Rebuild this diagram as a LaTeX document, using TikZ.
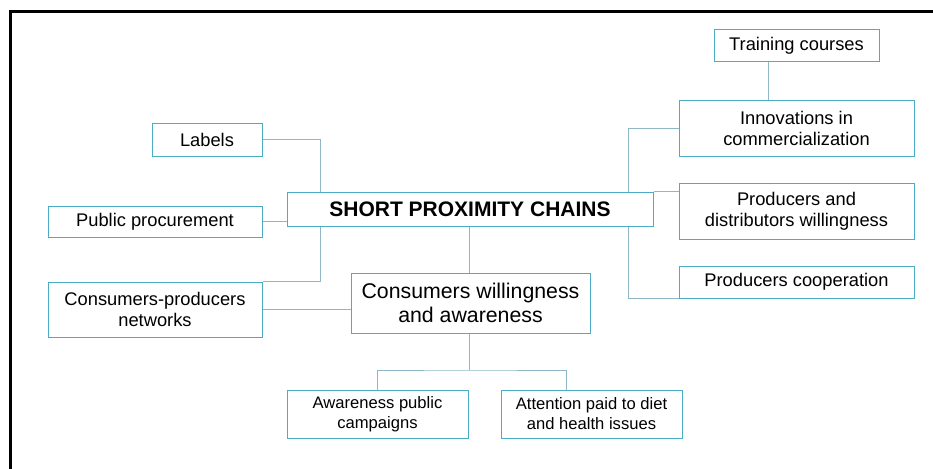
\documentclass[tikz,border=0pt]{standalone}
\usepackage{fontspec}
\setmainfont{Liberation Sans}
\definecolor{boxc}{HTML}{4BACC6}
\definecolor{linec}{HTML}{8FB8C6}
\begin{document}
\begin{tikzpicture}[x=1pt,y=-1pt,
  bx/.style={draw=boxc,line width=1pt,inner sep=0pt,align=center,font=\fontsize{18.3}{20.7}\selectfont},
  ln/.style={draw=linec,line width=1pt}]
\useasboundingbox (0,0) rectangle (933,468);
\fill[white] (0,0) rectangle (933,468);
\draw[line width=3pt] (10.5,475) -- (10.5,11.5) -- (940,11.5);
% boxes
\node[bx,minimum width=110pt,minimum height=33pt] (lab) at (207,139.5) {Labels};
\node[bx,minimum width=214pt,minimum height=31pt] (pp) at (155,221.5) {Public procurement};
\node[bx,minimum width=214pt,minimum height=55pt] (cpn) at (155,309.5) {Consumers-producers\\networks};
\node[bx,minimum width=366pt,minimum height=34pt,font=\bfseries\fontsize{21}{23}\selectfont] (spc) at (470,209) {SHORT PROXIMITY CHAINS};
\node[bx,minimum width=239pt,minimum height=60pt,font=\fontsize{21.3}{24}\selectfont] (cw) at (470.5,303) {Consumers willingness\\and awareness};
\node[bx,minimum width=181pt,minimum height=48pt,font=\fontsize{16.6}{20}\selectfont] (apc) at (377.5,414) {Awareness public\\campaigns};
\node[bx,minimum width=181pt,minimum height=48pt,font=\fontsize{16.6}{20}\selectfont] (att) at (591.5,414) {Attention paid to diet\\and health issues};
\node[bx,minimum width=165pt,minimum height=32pt] (tc) at (796.5,46) {Training courses};
\node[bx,minimum width=235pt,minimum height=55pt] (inn) at (796.5,128.5) {Innovations in\\commercialization};
\node[bx,minimum width=235pt,minimum height=56pt] (pdw) at (796.5,211) {Producers and\\distributors willingness};
\node[bx,minimum width=235pt,minimum height=32pt] (pco) at (796.5,282) {Producers cooperation};
% connectors
\coordinate (jl) at (320,0);
\coordinate (jr) at (628,0);
\draw[ln] (lab.east) -| (jl |- spc.north);
\draw[ln] (pp.east) -- (pp.east -| spc.west);
\draw[ln] (jl |- spc.south) |- (cpn.north east);
\draw[ln] (cpn.east) -- (cpn.east -| cw.west);
\draw[ln] (spc.south -| 469,0) -- (cw.north -| 469,0);
\coordinate (jb) at (469,370);
\draw[ln] (cw.south -| jb) -- (jb);
\draw[ln] (apc.north) |- (jb) -| (566,0 |- att.north);
\draw[ln] (tc.south -| 768,0) -- (inn.north -| 768,0);
\draw[ln] (inn.west) -| (jr |- spc.north);
\draw[ln] (spc.north east) -- (spc.north east -| pdw.west);
\draw[ln] (jr |- spc.south) |- (pco.south west);
\end{tikzpicture}
\end{document}
